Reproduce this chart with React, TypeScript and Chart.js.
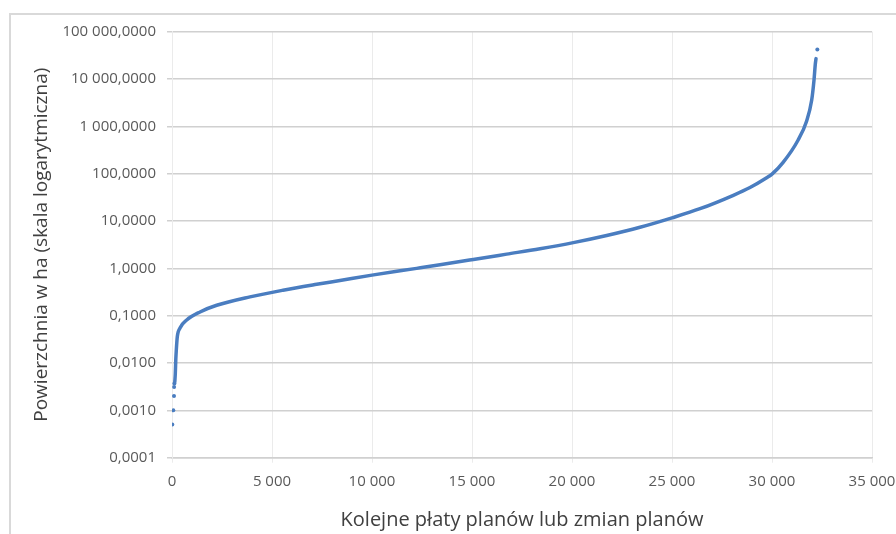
import React, { useEffect, useRef } from "react";
import { Chart, registerables } from "chart.js";

Chart.register(...registerables);

// Main curve (sorted patch areas, ha)
const curveX = [140, 165, 190, 215, 265, 400, 735, 1400, 2235, 3900, 5550, 7235, 8400, 10000, 12233, 13400, 15067, 16733, 18400, 20067, 21733, 23400, 25000, 26400, 28067, 28900, 29733, 30000, 30567, 31300, 31733, 31983, 32100, 32167, 32200];
const curveY = [0.004, 0.006, 0.012, 0.0187, 0.036, 0.055, 0.081, 0.12, 0.166, 0.25, 0.345, 0.46, 0.555, 0.72, 1.0, 1.19, 1.54, 2.0, 2.6, 3.5, 4.95, 7.4, 11.7, 18.2, 35, 51, 82, 98, 176, 510, 1300, 3550, 9500, 21000, 27000];

// Isolated points at the two ends of the curve
const dotsX = [15, 65, 100, 105, 120, 32267];
const dotsY = [0.0005, 0.001, 0.002, 0.0031, 0.0037, 42000];

const yTickValues = [0.0001, 0.001, 0.01, 0.1, 1, 10, 100, 1000, 10000, 100000];
const yTickLabels = ["0,0001", "0,0010", "0,0100", "0,1000", "1,0000", "10,0000", "100,0000", "1 000,0000", "10 000,0000", "100 000,0000"];
const xTickLabels = ["0", "5 000", "10 000", "15 000", "20 000", "25 000", "30 000", "35 000"];

const xTitle = "Kolejne płaty planów lub zmian planów";
const yTitle = "Powierzchnia w ha (skala logarytmiczna)";

const BLUE = "#4a7dc0";
const FONT = "'Open Sans', 'Liberation Sans', sans-serif";

export default function App() {
  const ref = useRef<HTMLCanvasElement | null>(null);

  useEffect(() => {
    if (!ref.current) return;
    const chart = new Chart(ref.current, {
      type: "scatter",
      data: {
        datasets: [
          {
            data: curveX.map((x, i) => ({ x, y: curveY[i] })),
            showLine: true,
            pointRadius: 0,
            borderWidth: 3.5,
            borderColor: BLUE,
            backgroundColor: BLUE,
            cubicInterpolationMode: "monotone",
            borderCapStyle: "round",
            borderJoinStyle: "round",
          } as any,
          {
            data: dotsX.map((x, i) => ({ x, y: dotsY[i] })),
            showLine: false,
            pointRadius: 2,
            pointBorderWidth: 0,
            backgroundColor: BLUE,
            borderColor: BLUE,
          } as any,
        ],
      },
      options: {
        animation: false,
        responsive: false,
        maintainAspectRatio: false,
        layout: { padding: { left: 0, top: 31.7, right: 24, bottom: 0 } },
        plugins: { legend: { display: false }, tooltip: { enabled: false } },
        scales: {
          x: {
            type: "linear",
            min: 0,
            max: 35000,
            afterFit: (s: any) => {
              s.height = 76.3;
              s.paddingLeft = 0;
              s.paddingRight = 0;
            },
            ticks: {
              stepSize: 5000,
              autoSkip: false,
              maxRotation: 0,
              padding: 10,
              color: "#595959",
              font: { family: FONT, size: 15 },
              callback: (v: any) => xTickLabels[Math.round(Number(v) / 5000)],
            },
            grid: { color: "#ebebeb", lineWidth: 1, tickLength: 5, drawTicks: true },
            border: { display: true, color: "#d0d0d0", width: 1.5 },
            title: {
              display: true,
              text: xTitle,
              color: "#404040",
              font: { family: FONT, size: 20 },
              padding: { top: 0, bottom: 2 },
            },
          },
          y: {
            type: "logarithmic",
            min: 0.0001,
            max: 100000,
            afterFit: (s: any) => {
              s.width = 172;
              s.paddingTop = 0;
              s.paddingBottom = 0;
            },
            afterBuildTicks: (s: any) => {
              s.ticks = yTickValues.map((v) => ({ value: v }));
            },
            ticks: {
              autoSkip: false,
              padding: 11,
              color: "#595959",
              font: { family: FONT, size: 15 },
              callback: (_v: any, i: number) => yTickLabels[i],
            },
            grid: { color: "#d0d0d0", lineWidth: 1.5, tickLength: 5, drawTicks: true },
            border: { display: true, color: "#ebebeb", width: 1 },
            title: {
              display: true,
              text: yTitle,
              color: "#404040",
              font: { family: FONT, size: 19 },
              padding: { top: 30.6, bottom: 0 },
            },
          },
        },
      } as any,
    });
    return () => chart.destroy();
  }, []);

  return (
    <div
      style={{
        position: "fixed",
        left: 0,
        top: 0,
        width: 896,
        height: 534,
        overflow: "hidden",
        background: "#ffffff",
      }}
    >
      <div
        style={{
          position: "absolute",
          left: 9,
          top: 13,
          width: 1000,
          height: 1000,
          border: "2px solid #d9d9d9",
        }}
      />
      <canvas
        ref={ref}
        width={896}
        height={534}
        style={{ position: "absolute", left: 0, top: 0, width: 896, height: 534 }}
      />
    </div>
  );
}
